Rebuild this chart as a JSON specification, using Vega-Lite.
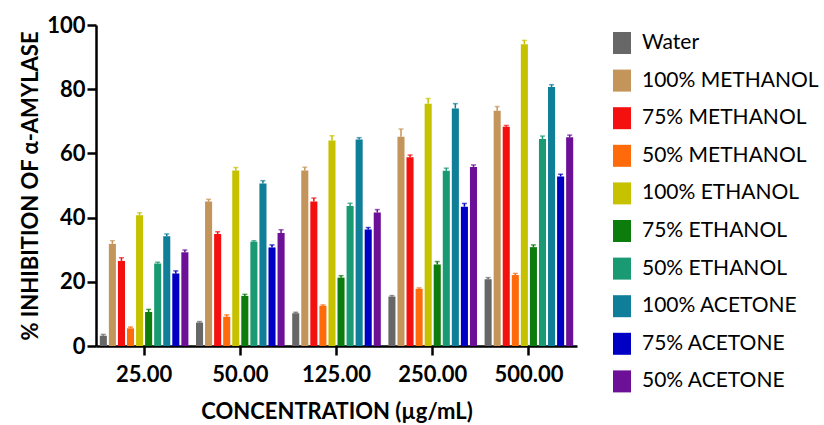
{
  "$schema": "https://vega.github.io/schema/vega-lite/v6.json",
  "width": 481,
  "height": 321,
  "autosize": {"type": "none"},
  "padding": {"left": 96, "top": 25, "right": 247, "bottom": 79},
  "background": "white",
  "config": {
    "view": {"stroke": null},
    "font": "Lato",
    "axis": {"domainColor": "black", "tickColor": "black", "domainWidth": 2.5, "tickWidth": 2.5, "labelColor": "black", "titleColor": "black", "grid": false, "labelFont": "Lato", "titleFont": "Lato"}
  },
  "data": {
    "values": [
      {"conc": "25.00", "solvent": "Water", "value": 3.2, "err": 0.4},
      {"conc": "25.00", "solvent": "100% METHANOL", "value": 31.8, "err": 1.0},
      {"conc": "25.00", "solvent": "75% METHANOL", "value": 26.5, "err": 1.0},
      {"conc": "25.00", "solvent": "50% METHANOL", "value": 5.5, "err": 0.4},
      {"conc": "25.00", "solvent": "100% ETHANOL", "value": 40.7, "err": 0.8},
      {"conc": "25.00", "solvent": "75% ETHANOL", "value": 10.6, "err": 0.8},
      {"conc": "25.00", "solvent": "50% ETHANOL", "value": 25.7, "err": 0.4},
      {"conc": "25.00", "solvent": "100% ACETONE", "value": 34.2, "err": 0.7},
      {"conc": "25.00", "solvent": "75% ACETONE", "value": 22.6, "err": 0.8},
      {"conc": "25.00", "solvent": "50% ACETONE", "value": 29.2, "err": 0.7},
      {"conc": "50.00", "solvent": "Water", "value": 7.3, "err": 0.3},
      {"conc": "50.00", "solvent": "100% METHANOL", "value": 45.0, "err": 0.7},
      {"conc": "50.00", "solvent": "75% METHANOL", "value": 34.9, "err": 0.7},
      {"conc": "50.00", "solvent": "50% METHANOL", "value": 9.1, "err": 0.6},
      {"conc": "50.00", "solvent": "100% ETHANOL", "value": 54.7, "err": 0.9},
      {"conc": "50.00", "solvent": "75% ETHANOL", "value": 15.6, "err": 0.5},
      {"conc": "50.00", "solvent": "50% ETHANOL", "value": 32.5, "err": 0.3},
      {"conc": "50.00", "solvent": "100% ACETONE", "value": 50.6, "err": 0.9},
      {"conc": "50.00", "solvent": "75% ACETONE", "value": 30.7, "err": 0.8},
      {"conc": "50.00", "solvent": "50% ACETONE", "value": 35.2, "err": 1.0},
      {"conc": "125.00", "solvent": "Water", "value": 10.2, "err": 0.3},
      {"conc": "125.00", "solvent": "100% METHANOL", "value": 54.7, "err": 1.0},
      {"conc": "125.00", "solvent": "75% METHANOL", "value": 45.0, "err": 1.1},
      {"conc": "125.00", "solvent": "50% METHANOL", "value": 12.5, "err": 0.3},
      {"conc": "125.00", "solvent": "100% ETHANOL", "value": 64.0, "err": 1.5},
      {"conc": "125.00", "solvent": "75% ETHANOL", "value": 21.3, "err": 0.6},
      {"conc": "125.00", "solvent": "50% ETHANOL", "value": 43.6, "err": 0.9},
      {"conc": "125.00", "solvent": "100% ACETONE", "value": 64.3, "err": 0.6},
      {"conc": "125.00", "solvent": "75% ACETONE", "value": 36.3, "err": 0.6},
      {"conc": "125.00", "solvent": "50% ACETONE", "value": 41.6, "err": 0.9},
      {"conc": "250.00", "solvent": "Water", "value": 15.4, "err": 0.3},
      {"conc": "250.00", "solvent": "100% METHANOL", "value": 65.2, "err": 2.4},
      {"conc": "250.00", "solvent": "75% METHANOL", "value": 58.8, "err": 0.7},
      {"conc": "250.00", "solvent": "50% METHANOL", "value": 17.8, "err": 0.3},
      {"conc": "250.00", "solvent": "100% ETHANOL", "value": 75.5, "err": 1.6},
      {"conc": "250.00", "solvent": "75% ETHANOL", "value": 25.4, "err": 0.9},
      {"conc": "250.00", "solvent": "50% ETHANOL", "value": 54.6, "err": 0.8},
      {"conc": "250.00", "solvent": "100% ACETONE", "value": 74.0, "err": 1.5},
      {"conc": "250.00", "solvent": "75% ACETONE", "value": 43.4, "err": 1.0},
      {"conc": "250.00", "solvent": "50% ACETONE", "value": 55.8, "err": 0.6},
      {"conc": "500.00", "solvent": "Water", "value": 20.8, "err": 0.5},
      {"conc": "500.00", "solvent": "100% METHANOL", "value": 73.3, "err": 1.3},
      {"conc": "500.00", "solvent": "75% METHANOL", "value": 68.3, "err": 0.4},
      {"conc": "500.00", "solvent": "50% METHANOL", "value": 22.1, "err": 0.5},
      {"conc": "500.00", "solvent": "100% ETHANOL", "value": 94.0, "err": 1.2},
      {"conc": "500.00", "solvent": "75% ETHANOL", "value": 30.8, "err": 0.7},
      {"conc": "500.00", "solvent": "50% ETHANOL", "value": 64.5, "err": 0.9},
      {"conc": "500.00", "solvent": "100% ACETONE", "value": 80.7, "err": 0.7},
      {"conc": "500.00", "solvent": "75% ACETONE", "value": 52.8, "err": 0.7},
      {"conc": "500.00", "solvent": "50% ACETONE", "value": 65.0, "err": 0.7}
    ]
  },
  "transform": [{"calculate": "datum.value + datum.err", "as": "hi"}],
  "encoding": {
    "x": {
      "field": "conc", "type": "nominal",
      "sort": ["25.00", "50.00", "125.00", "250.00", "500.00"],
      "scale": {"paddingInner": 0.06, "paddingOuter": 0.03},
      "axis": {"title": "CONCENTRATION (µg/mL)", "labelAngle": 0, "labelFontSize": 22, "labelFontWeight": "bold", "labelPadding": 9, "tickSize": 9, "titleFontSize": 22, "titleFontWeight": "bold", "titlePadding": 16}
    },
    "xOffset": {
      "field": "solvent", "type": "nominal",
      "sort": ["Water", "100% METHANOL", "75% METHANOL", "50% METHANOL", "100% ETHANOL", "75% ETHANOL", "50% ETHANOL", "100% ACETONE", "75% ACETONE", "50% ACETONE"],
      "scale": {"paddingInner": 0.22, "paddingOuter": 0.1}
    },
    "color": {
      "field": "solvent", "type": "nominal",
      "sort": ["Water", "100% METHANOL", "75% METHANOL", "50% METHANOL", "100% ETHANOL", "75% ETHANOL", "50% ETHANOL", "100% ACETONE", "75% ACETONE", "50% ACETONE"],
      "scale": {
        "domain": ["Water", "100% METHANOL", "75% METHANOL", "50% METHANOL", "100% ETHANOL", "75% ETHANOL", "50% ETHANOL", "100% ACETONE", "75% ACETONE", "50% ACETONE"],
        "range": ["#676767", "#C4955A", "#F51010", "#FF6A0A", "#C6C200", "#0C7D0C", "#1A9A72", "#0F7E98", "#0000C4", "#6C1098"]
      },
      "legend": {
        "title": null, "orient": "none", "legendX": 515, "legendY": 7,
        "symbolType": "M-0.82,-1H0.82V1H-0.82Z", "symbolSize": 484, "symbolStrokeWidth": 0, "symbolOpacity": 1,
        "labelFontSize": 21, "labelFont": "Lato", "labelColor": "black", "labelOffset": 9,
        "rowPadding": 15.6, "labelLimit": 300
      }
    }
  },
  "layer": [
    {
      "mark": {"type": "bar", "opacity": 1},
      "encoding": {
        "y": {
          "field": "value", "type": "quantitative",
          "scale": {"domain": [0, 100], "nice": false},
          "axis": {"title": "% INHIBITION OF α-AMYLASE", "values": [0, 20, 40, 60, 80, 100], "labelFontSize": 22, "labelFontWeight": "bold", "tickSize": 9, "labelPadding": 2, "titleFontSize": 22, "titleFontWeight": "bold", "titlePadding": 4}
        }
      }
    },
    {
      "mark": {"type": "rule", "strokeWidth": 1.5},
      "encoding": {
        "y": {"field": "value", "type": "quantitative"},
        "y2": {"field": "hi"}
      }
    },
    {
      "mark": {"type": "tick", "thickness": 1.5, "size": 5},
      "encoding": {
        "y": {"field": "hi", "type": "quantitative"}
      }
    }
  ]
}
